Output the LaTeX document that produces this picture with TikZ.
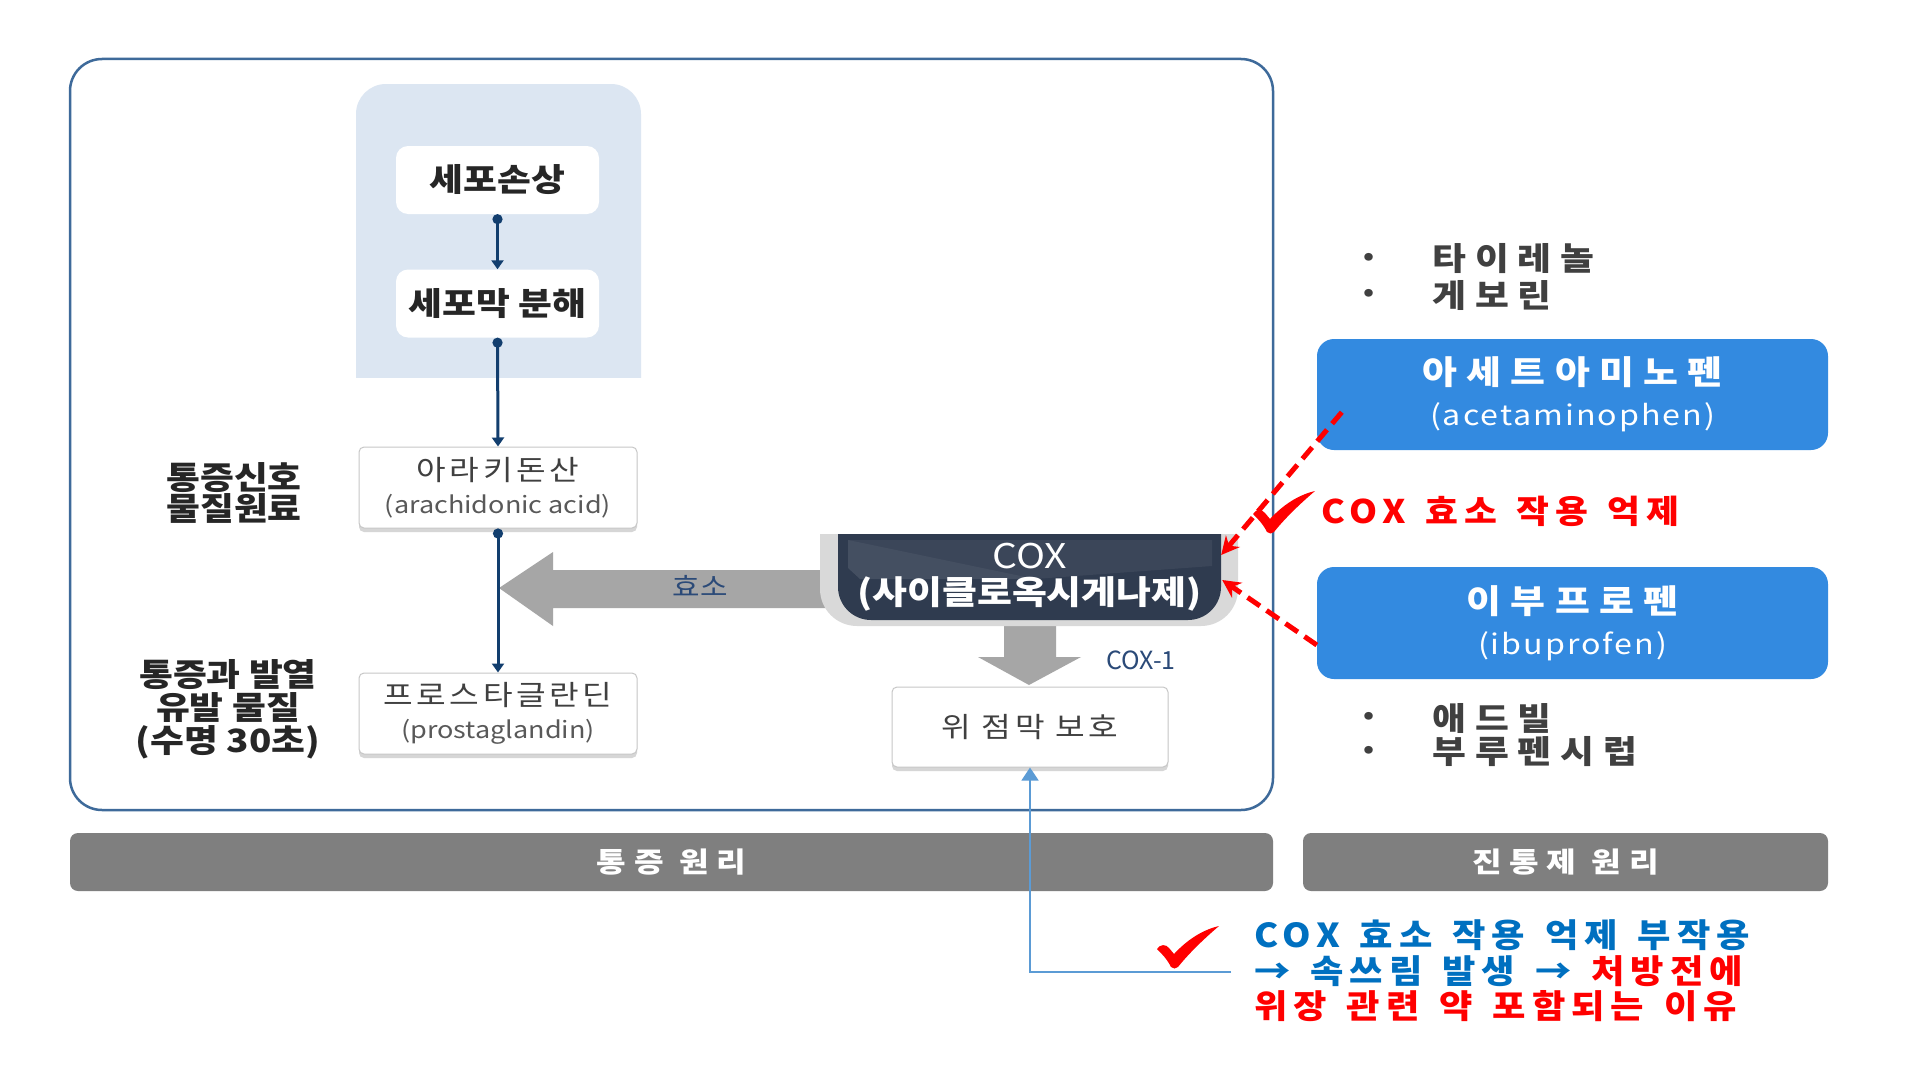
\documentclass[tikz,border=0pt]{standalone}
\usepackage{fontspec}
\setmainfont{Noto Sans CJK KR}[FakeStretch=1.15]
\newfontfamily\krA{Noto Sans CJK KR}[FakeStretch=1.15,LetterSpace=13]
\newfontfamily\krE{Noto Sans CJK KR}[FakeStretch=1.15,LetterSpace=7]
\newfontfamily\krC{Noto Sans CJK KR}[FakeStretch=1.15,LetterSpace=28]
\newfontfamily\krN{Noto Sans CJK KR}[FakeStretch=1.1,LetterSpace=18,WordSpace=1.4]
\newfontfamily\krP{Noto Sans CJK KR}
\usetikzlibrary{arrows.meta,calc,shadows}
\definecolor{frameblue}{HTML}{3E6A9A}
\definecolor{panelblue}{HTML}{DCE6F2}
\definecolor{navy}{HTML}{123E6E}
\definecolor{navytext}{HTML}{2B4A78}
\definecolor{arrowgray}{HTML}{A6A6A6}
\definecolor{coxgray}{HTML}{D9D9D9}
\definecolor{coxdark}{HTML}{2F3B4F}
\definecolor{boxblue}{HTML}{338AE0}
\definecolor{bargray}{HTML}{7F7F7F}
\definecolor{txtdark}{HTML}{262626}
\definecolor{txtgray}{HTML}{404040}
\definecolor{txtlight}{HTML}{595959}
\definecolor{noteblue}{HTML}{0070C0}
\definecolor{lineblue}{HTML}{5B9BD5}
\definecolor{alertred}{HTML}{FF0000}
\tikzset{
  wbox/.style={fill=white, rounded corners=12pt, minimum width=203pt, minimum height=68pt, inner sep=0pt,
    text=txtdark, font=\bfseries\fontsize{32}{34}\selectfont},
  sbox/.style={fill=white, draw=black!22, line width=1pt, rounded corners=5pt, inner sep=0pt,
    general shadow={fill=black!16, shadow yshift=-4pt},
    text=txtgray, align=center, font=\krA\fontsize{28}{33}\selectfont},
  lbl/.style={inner sep=0pt, align=center, text=txtdark, font=\bfseries\fontsize{32}{31}\selectfont},
  navyarrow/.style={draw=navy, line width=3pt, {Circle[length=10pt]}-{Triangle[length=9pt,width=12pt]}},
  bbox/.style={fill=boxblue, rounded corners=17pt, minimum width=511pt, inner sep=0pt, text=white,
    align=center, font=\krC\bfseries\fontsize{33}{41}\selectfont},
  bul/.style={inner sep=0pt, text=txtgray, font=\bfseries\fontsize{24}{28}\selectfont},
  bullbl/.style={inner sep=0pt, anchor=west, text=txtgray, font=\krC\bfseries\fontsize{32}{34}\selectfont},
  reddash/.style={draw=alertred, line width=5pt, dash pattern=on 15pt off 8pt, -{Stealth[length=18pt,width=18pt]}},
  bar/.style={fill=bargray, rounded corners=8pt, minimum height=58pt, inner sep=0pt, text=white,
    font=\krC\bfseries\fontsize{28}{30}\selectfont},
  note/.style={inner sep=0pt, anchor=west, font=\krN\bfseries\fontsize{33}{34}\selectfont},
  chk/.pic={\fill[alertred] (0,23) .. controls (3,18) and (9,18) .. (12,22) -- (17,28)
     .. controls (30,14) and (45,4) .. (62,0) .. controls (48,12) and (33,26) .. (21,41)
     .. controls (19,43) and (16,43) .. (14,41) .. controls (10,33) and (5,28) .. (0,23) -- cycle;}
}
\begin{document}
\begin{tikzpicture}[x=1pt,y=-1pt]
\useasboundingbox (0,0) rectangle (1917,1081);
\fill[white] (0,0) rectangle (1917,1081);

% main frame
\node[draw=frameblue, line width=2.5pt, rounded corners=32pt, minimum width=1203pt, minimum height=751pt] (frame) at (671.5,434.5) {};

% light blue panel (rounded top only)
\begin{scope}
  \clip (340,70) rectangle (660,377);
  \fill[panelblue, rounded corners=30pt] (356,84) rectangle (641,430);
\end{scope}

\node[wbox] (damage) at (497.5,180) {세포손상};
\node[wbox] (membrane) at (497.5,303.5) {세포막 분해};

\node[sbox, minimum width=278pt, minimum height=81pt] (ara) at (498,487.5)
  {아라키돈산\\{\rmfamily\fontsize{23.5}{26}\selectfont\color{txtlight}(arachidonic acid)}};
\node[sbox, minimum width=278pt, minimum height=81pt] (pg) at (498,713.5)
  {프로스타글란딘\\{\rmfamily\fontsize{23.5}{26}\selectfont\color{txtlight}(prostaglandin)}};

\draw[navyarrow] (damage.south) -- (membrane.north);
\draw[navyarrow] (membrane.south) -- (ara.north);

\node[lbl] (signal) at (234,493) {통증신호\\물질원료};
\node[lbl, font=\bfseries\fontsize{32}{33}\selectfont] (fever) at (228,709) {통증과 발열\\유발 물질\\(수명 30초)};

% gray arrows
\fill[arrowgray] (499,588) -- (553,552) -- (553,570) -- (835,570) -- (835,608) -- (553,608) -- (553,626) -- cycle;
\fill[arrowgray] (1004,615) -- (1056,615) -- (1056,657) -- (1081,657) -- (1029,685) -- (978,657) -- (1004,657) -- cycle;

\draw[navyarrow] (ara.south) -- (pg.north);

% COX box
\begin{scope}
  \clip (800,534) rectangle (1260,640);
  \fill[coxgray, rounded corners=37pt] (820,480) rectangle (1238,626);
  \fill[coxdark, rounded corners=33pt] (838,480) rectangle (1221,620);
  \fill[white, opacity=0.06] (848,540) -- (1212,540) -- (1212,566) -- (1035,579) -- (860,579) -- (848,568) -- cycle;
  \fill[white, opacity=0.05] (848,540) -- (1035,579) -- (860,579) -- (848,568) -- cycle;
\end{scope}
\node[inner sep=0pt, minimum width=383pt, minimum height=86pt, align=center, text=white,
  font=\bfseries\fontsize{33}{35.5}\selectfont] (cox) at (1029.5,577)
  {{\mdseries\fontsize{34}{34}\selectfont COX}\\(사이클로옥시게나제)};

\node[inner sep=0pt, text=navytext, font=\fontsize{26}{28}\selectfont] (enzyme) at (700,586) {효소};
\node[inner sep=0pt, text=navytext, font=\krP\fontsize{25}{26}\selectfont] (cox1) at (1141,660) {COX-1};

\node[sbox, minimum width=276pt, minimum height=80pt, font=\krA\fontsize{28}{30}\selectfont] (gastro) at (1030,727) {위 점막 보호};

% right side
\node[bul] (b1) at (1369,259) {•};
\node[bullbl] (t1) at (1432,259) {타이레놀};
\node[bul] (b2) at (1369,295) {•};
\node[bullbl] (t2) at (1432,295) {게보린};

\node[bbox, minimum height=111pt] (acet) at (1572.5,394.5)
  {아세트아미노펜\\{\krE\mdseries\fontsize{28}{30}\selectfont (acetaminophen)}};
\node[bbox, minimum height=112pt] (ibu) at (1572.5,623)
  {이부프로펜\\{\krE\mdseries\fontsize{28}{30}\selectfont (ibuprofen)}};

\node[bul] (b3) at (1369,718) {•};
\node[bullbl] (t3) at (1432,718) {애드빌};
\node[bul] (b4) at (1369,752) {•};
\node[bullbl] (t4) at (1432,752) {부루펜시럽};

\node[inner sep=0pt, anchor=west, text=alertred, font=\krN\bfseries\fontsize{32.5}{32}\selectfont] (inhibit) at (1321,511) {COX 효소 작용 억제};

\draw[reddash] ($(acet.south west)+(25,-38)$) -- ($(cox.east)+(0,-22)$);
\draw[reddash] ($(ibu.west)+(0,22)$) -- ($(cox.east)+(1,3)$);
\pic at (1253,491) {chk};

% bottom bars
\node[bar, minimum width=1203pt] (painbar) at (671.5,862) {통증 원리};
\node[bar, minimum width=525pt] (drugbar) at (1565.5,862) {진통제 원리};

% side-effect note
\coordinate (noteend) at (1231,972);
\draw[draw=lineblue, line width=1.5pt, -{Triangle[length=13pt,width=17pt]}] (noteend) -| (gastro.south);
\pic at (1157,926) {chk};
\node[note, text=noteblue] (n1) at (1254,935) {COX 효소 작용 억제 부작용};
\node[note, text=noteblue] (n2) at (1254,971) {→ 속쓰림 발생 → \textcolor{alertred}{처방전에}};
\node[note, text=alertred] (n3) at (1254,1006) {위장 관련 약 포함되는 이유};
\end{tikzpicture}
\end{document}
